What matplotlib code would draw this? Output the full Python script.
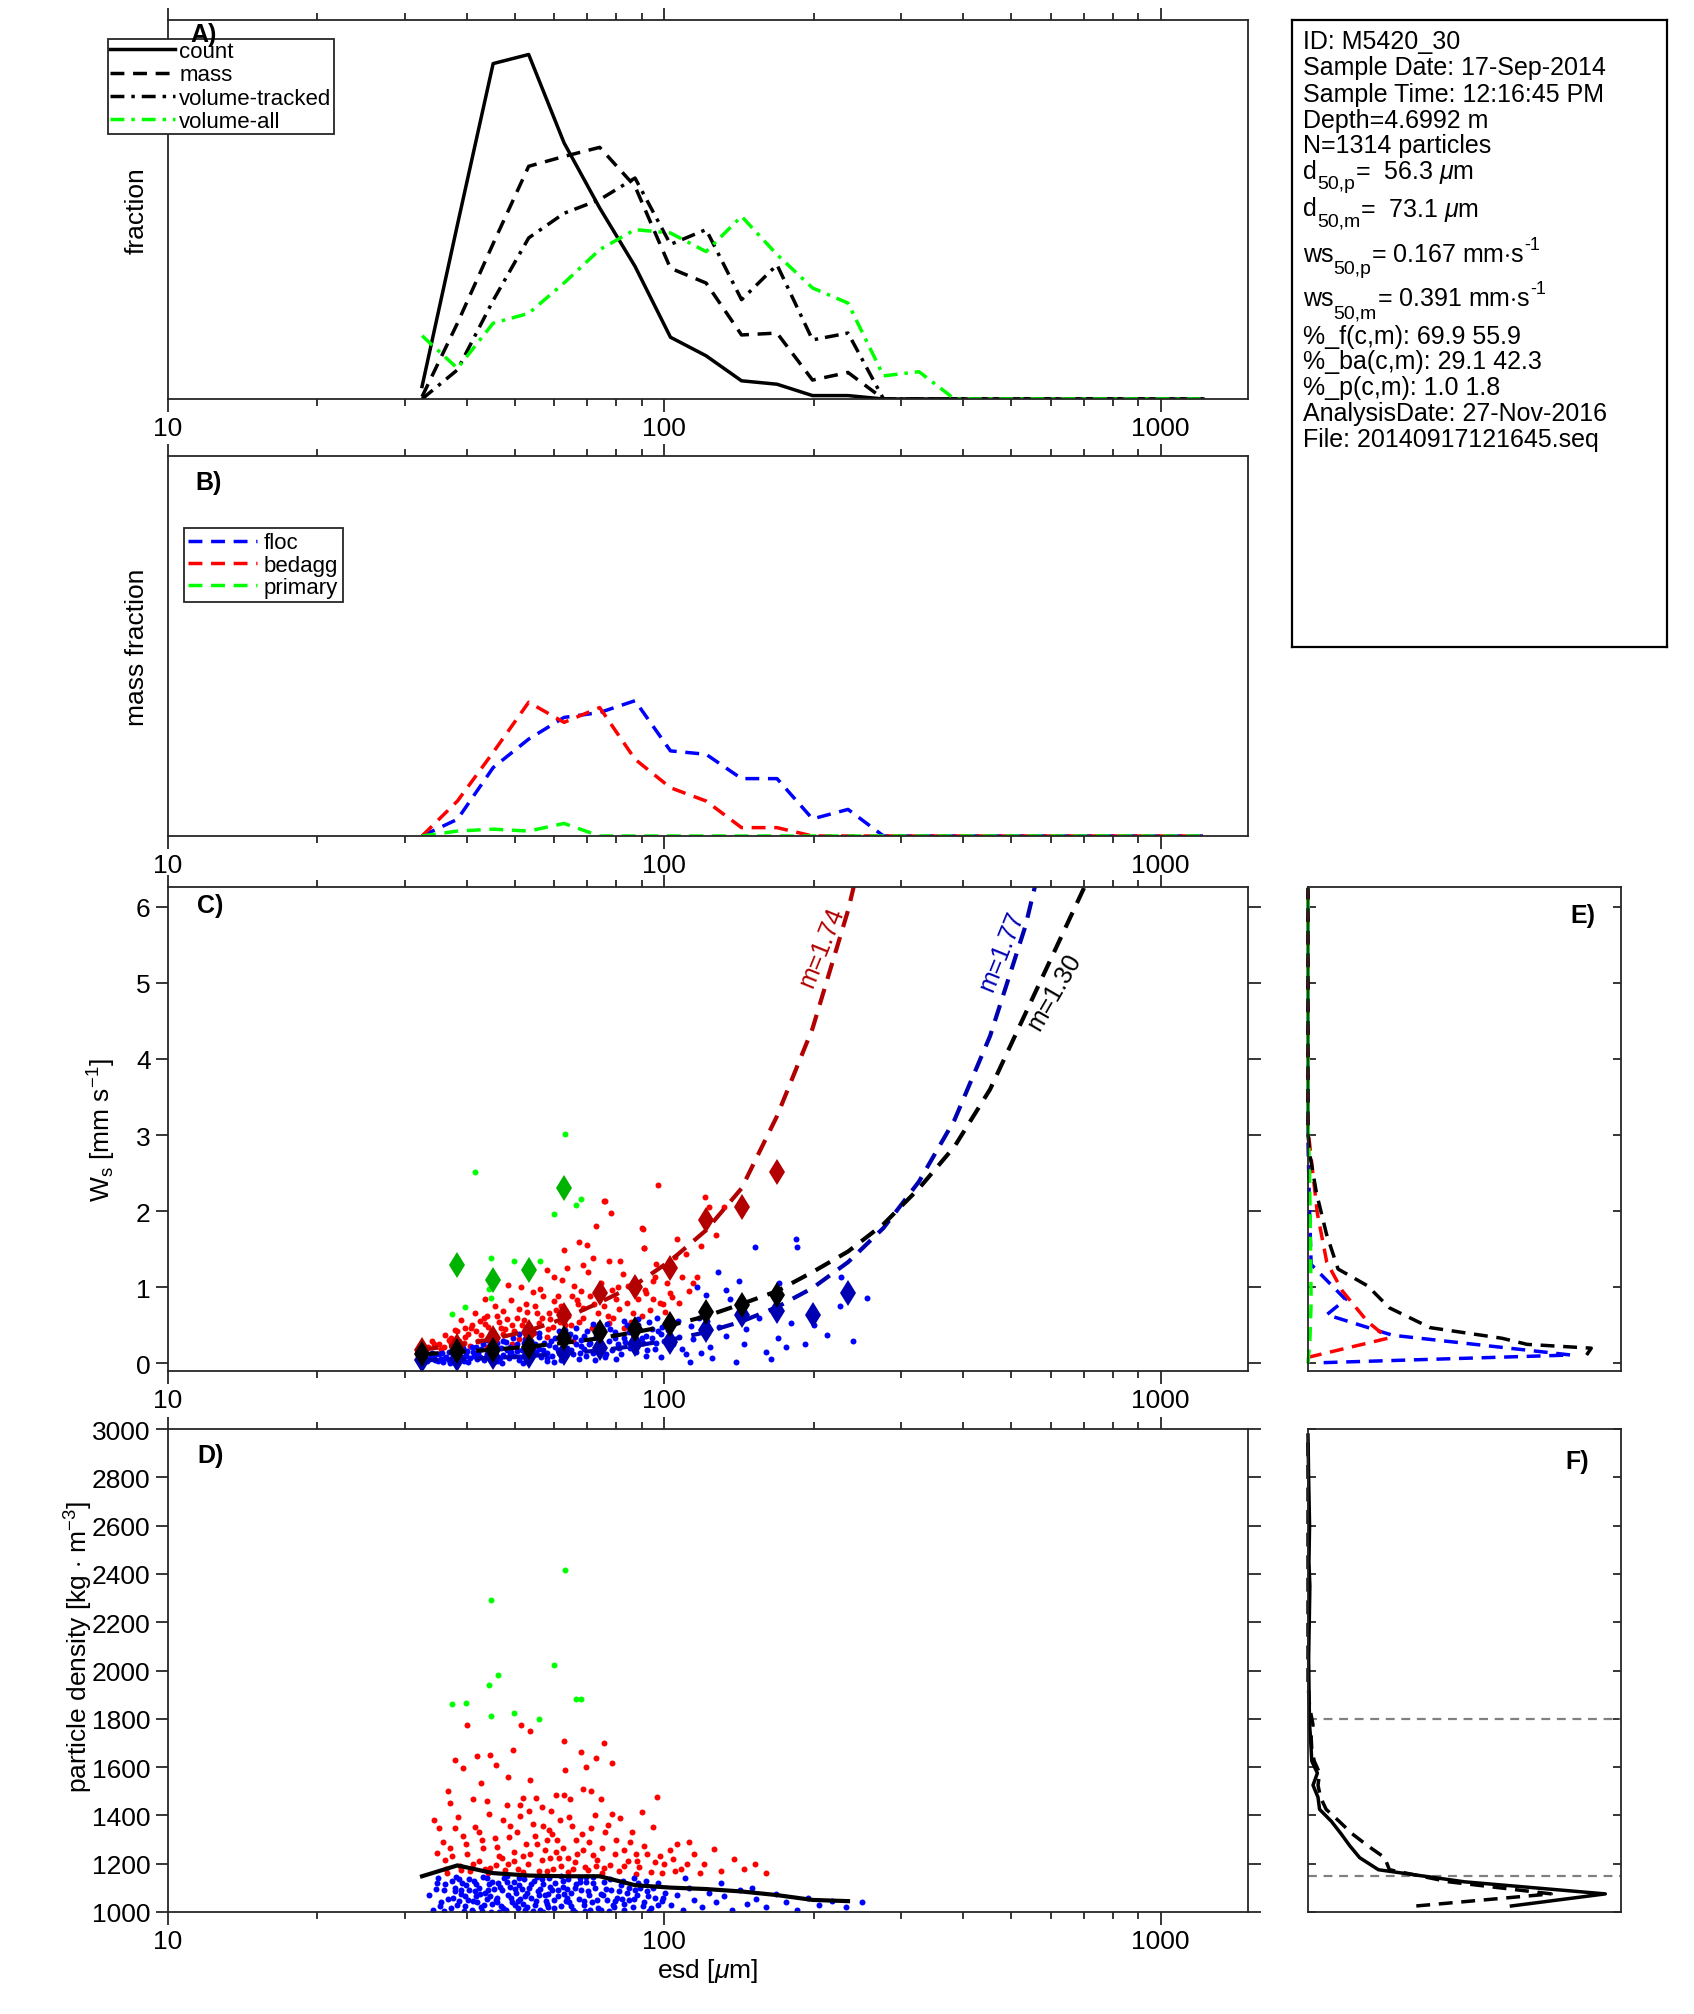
import numpy as np
import matplotlib.pyplot as plt
from matplotlib.ticker import LogLocator, NullFormatter

plt.rcParams['font.family'] = ['Liberation Sans', 'DejaVu Sans']
plt.rcParams['mathtext.fontset'] = 'custom'
plt.rcParams['mathtext.rm'] = 'Liberation Sans'
plt.rcParams['mathtext.it'] = 'Liberation Sans:italic'
plt.rcParams['mathtext.bf'] = 'Liberation Sans:bold'
plt.rcParams['font.size'] = 18

# ---- data ----
# bin centres (esd, um)
esd_bins = [32.5, 38.3, 45.2, 53.3, 62.8, 74.1, 87.3, 102.9, 121.4, 143.1, 168.7,
            198.9, 234.5, 276.5, 326.0, 384.4, 453.2, 534.3, 630.0, 742.7, 875.7,
            1032.5, 1217.3]

# A) size distributions (relative units)
frac_count = [0.033, 0.46, 0.885, 0.909, 0.676, 0.504, 0.35, 0.163, 0.114, 0.048, 0.039,
              0.009, 0.009, 0, 0, 0, 0, 0, 0, 0, 0, 0, 0]
frac_mass = [0.006, 0.2, 0.41, 0.614, 0.64, 0.664, 0.561, 0.345, 0.306, 0.169, 0.174,
             0.05, 0.07, 0, 0, 0, 0, 0, 0, 0, 0, 0, 0]
frac_voltrack = [0.0, 0.077, 0.26, 0.425, 0.49, 0.526, 0.583, 0.408, 0.447, 0.262, 0.354,
                 0.156, 0.174, 0, 0, 0, 0, 0, 0, 0, 0, 0, 0]
frac_volall = [0.167, 0.081, 0.2, 0.226, 0.306, 0.394, 0.447, 0.438, 0.389, 0.482, 0.381,
               0.293, 0.253, 0.061, 0.072, 0, 0, 0, 0, 0, 0, 0, 0]

# B) mass fraction per class
mf_floc = [0.0, 0.044, 0.18, 0.255, 0.312, 0.325, 0.356, 0.224, 0.215, 0.151, 0.151,
           0.045, 0.07, 0, 0, 0, 0, 0, 0, 0, 0, 0, 0]
mf_bedagg = [0.0, 0.092, 0.22, 0.352, 0.299, 0.338, 0.202, 0.127, 0.092, 0.022, 0.022,
             0, 0, 0, 0, 0, 0, 0, 0, 0, 0, 0, 0]
mf_primary = [0.0, 0.013, 0.018, 0.013, 0.033, 0, 0, 0, 0, 0, 0, 0, 0, 0, 0, 0, 0, 0, 0,
              0, 0, 0, 0]

# C) settling velocity: fitted curves and bin means
fit_red = [0.18, 0.24, 0.32, 0.43, 0.59, 0.80, 1.03, 1.35, 1.75, 2.3, 3.25, 4.4, 5.95, 7.9]
fit_blue = [0.04, 0.054, 0.072, 0.095, 0.13, 0.17, 0.23, 0.31, 0.41, 0.55, 0.74, 0.99,
            1.33, 1.78, 2.39, 3.2, 4.3, 5.75, 7.7]
fit_black = [0.12, 0.15, 0.18, 0.22, 0.27, 0.33, 0.41, 0.5, 0.62, 0.78, 0.95, 1.2, 1.47,
             1.83, 2.3, 2.85, 3.6, 4.6, 5.6, 6.6]
dia_red = [0.18, 0.23, 0.34, 0.41, 0.63, 0.92, 1.0, 1.26, 1.88, 2.05, 2.51]
dia_black = [0.12, 0.16, 0.18, 0.22, 0.34, 0.41, 0.45, 0.52, 0.67, 0.77, 0.9]
dia_blue = [0.05, 0.06, 0.08, 0.1, 0.13, 0.2, 0.25, 0.28, 0.44, 0.63, 0.69, 0.64, 0.92]
dia_green = [1.29, 1.09, 1.23, 2.31]

# C) particles (esd, ws)
c_green = np.array([(63.1, 3.02), (41.5, 2.51), (67.9, 2.16), (66.5, 2.08), (59.9, 1.96),
                    (44.8, 1.38), (56.2, 1.34), (49.9, 1.35), (44.8, 0.86), (39.7, 0.74),
                    (37.4, 0.65), (44.4, 0.98)])
c_red = np.array([
    (97.1, 2.35), (75.6, 2.13), (78.1, 1.98), (72.8, 1.80), (90.0, 1.78), (67.3, 1.60),
    (69.9, 1.56), (62.7, 1.49), (91.0, 1.52), (63.7, 1.25), (72.0, 1.38), (77.3, 1.35),
    (81.6, 1.35), (68.7, 1.29), (58.1, 1.23), (60.0, 1.14), (95.9, 1.14), (106.3, 1.63),
    (48.4, 1.03), (51.4, 1.01), (54.4, 0.94), (56.2, 0.98), (61.1, 0.89), (65.2, 0.89),
    (66.7, 0.83), (78.6, 0.96), (84.6, 1.02), (91.9, 0.93), (102.9, 0.92), (98.0, 0.79),
    (43.5, 0.84), (45.5, 0.75), (41.5, 0.66), (43.3, 0.60), (47.3, 0.69), (50.9, 0.71),
    (55.0, 0.76), (58.5, 0.66), (61.9, 0.75), (68.7, 0.73), (73.4, 0.66), (81.2, 0.71),
    (86.3, 0.66), (38.9, 0.57), (41.0, 0.51), (44.2, 0.48), (46.5, 0.55), (49.4, 0.51),
    (52.1, 0.57), (56.0, 0.53), (59.6, 0.48), (63.2, 0.51), (67.3, 0.55), (71.5, 0.46),
    (77.3, 0.53), (82.9, 0.46), (37.8, 0.44), (36.2, 0.37), (39.7, 0.35), (42.8, 0.37),
    (45.0, 0.32), (47.3, 0.39), (50.9, 0.32), (53.7, 0.37), (57.9, 0.35), (61.6, 0.32),
    (65.6, 0.30), (34.4, 0.26), (35.5, 0.19), (33.4, 0.22), (37.0, 0.29), (40.6, 0.23),
    (43.9, 0.21), (49.4, 0.26), (55.0, 0.23), (120.8, 2.18), (123.1, 2.05), (131.7, 2.05),
    (127.4, 1.69), (118.5, 1.54), (110.7, 1.44), (103.5, 1.26), (95.0, 1.08), (99.6, 0.78),
    (108.6, 1.13), (116.2, 1.13), (103.5, 0.87), (91.3, 0.97), (90.4, 1.77), (90.8, 1.52),
    (76.1, 2.14), (36.8, 0.31), (38.2, 0.42), (39.5, 0.27), (40.8, 0.46), (42.1, 0.29),
    (43.6, 0.52), (44.8, 0.41), (46.1, 0.62), (47.7, 0.45), (49.1, 0.83), (50.5, 0.6),
    (52.6, 0.78), (53.9, 0.45), (55.4, 0.66), (57.0, 0.88), (58.8, 0.58), (60.6, 0.7),
    (62.3, 1.1), (64.1, 0.62), (65.9, 1.02), (67.9, 0.95), (70.1, 1.2), (72.3, 0.78),
    (74.6, 1.05), (76.9, 0.62), (79.8, 0.85), (82.4, 1.18), (85.6, 0.55), (88.7, 0.84),
    (93.5, 0.7), (96.4, 1.3), (101.2, 1.05), (105.0, 1.4), (112.0, 0.95),
    (34.0, 0.3), (35.2, 0.25), (36.0, 0.21), (37.2, 0.34), (38.5, 0.3), (39.6, 0.47),
    (40.3, 0.38), (41.8, 0.42), (42.6, 0.56), (44.0, 0.62), (45.2, 0.38), (46.8, 0.47),
    (48.1, 0.58), (49.9, 0.42), (51.6, 0.5), (52.9, 0.68), (54.7, 0.4), (56.6, 0.6),
    (58.3, 0.45), (59.9, 0.82), (61.5, 0.55), (63.1, 0.7), (65.0, 0.5), (66.9, 0.78),
    (68.6, 0.6), (70.9, 0.88), (73.9, 0.52), (75.5, 0.75), (78.9, 0.6), (80.7, 1.0),
    (84.0, 0.8), (87.2, 0.95), (90.0, 0.62), (94.9, 0.85), (100.4, 0.68), (106.9, 0.8),
    (114.5, 1.05)])
c_blue = np.array([
    (33.2, 0.03), (33.8, 0.08), (34.5, 0.05), (35.1, 0.12), (35.8, 0.02), (36.4, 0.09),
    (36.9, 0.15), (34.0, 0.14), (35.5, 0.06), (37.0, 0.01), (37.6, 0.11), (38.1, 0.04),
    (38.7, 0.18), (39.2, 0.08), (39.8, 0.13), (40.3, 0.02), (40.9, 0.21), (41.4, 0.1),
    (41.9, 0.06), (38.4, 0.25), (40.0, 0.16), (42.2, 0.14), (39.5, 0.03), (42.8, 0.19),
    (43.3, 0.05), (43.9, 0.12), (44.5, 0.24), (45.0, 0.09), (45.6, 0.16), (46.2, 0.03),
    (46.8, 0.2), (47.4, 0.11), (48.0, 0.28), (48.6, 0.07), (49.2, 0.15), (44.0, 0.31),
    (46.0, 0.27), (47.0, 0.01), (48.9, 0.22), (45.3, 0.02), (49.8, 0.1), (50.4, 0.25),
    (51.0, 0.04), (51.7, 0.18), (52.4, 0.32), (53.0, 0.12), (53.7, 0.06), (54.4, 0.22),
    (55.1, 0.15), (55.8, 0.35), (56.5, 0.08), (57.2, 0.27), (57.9, 0.03), (50.9, 0.38),
    (52.0, 0.01), (54.0, 0.29), (56.0, 0.19), (58.0, 0.13), (58.7, 0.24), (59.5, 0.1),
    (60.3, 0.33), (61.1, 0.17), (61.9, 0.05), (62.8, 0.28), (63.6, 0.2), (64.5, 0.38),
    (65.4, 0.12), (66.3, 0.26), (67.2, 0.06), (68.1, 0.31), (69.0, 0.19), (70.0, 0.42),
    (60.0, 0.02), (63.0, 0.44), (66.0, 0.35), (69.5, 0.1), (62.0, 0.14), (67.8, 0.23),
    (71.0, 0.27), (72.0, 0.13), (73.0, 0.36), (74.0, 0.21), (75.0, 0.47), (76.1, 0.09),
    (77.2, 0.3), (78.3, 0.18), (79.4, 0.41), (80.5, 0.25), (81.7, 0.12), (82.9, 0.34),
    (84.1, 0.5), (85.3, 0.2), (72.5, 0.04), (76.5, 0.52), (80.0, 0.06), (83.5, 0.28),
    (86.5, 0.38), (87.8, 0.15), (89.1, 0.45), (90.4, 0.27), (91.7, 0.1), (93.0, 0.55),
    (94.4, 0.33), (95.8, 0.19), (97.2, 0.42), (98.6, 0.08), (100.0, 0.3), (88.5, 0.58),
    (92.0, 0.36), (96.5, 0.6), (99.0, 0.48), (183.9, 1.63), (185.1, 1.53), (152.2, 1.53),
    (128.0, 1.20), (141.7, 1.08), (116.2, 1.00), (121.5, 0.90), (132.9, 0.97), (135.6, 0.85),
    (227.2, 1.14), (255.9, 0.86), (225.9, 0.76), (170.1, 1.06), (180.4, 0.53), (169.1, 0.34),
    (175.9, 0.22), (192.3, 0.25), (213.1, 0.37), (164.4, 0.06), (139.5, 0.02), (132.9, 0.36),
    (144.8, 0.25), (129.1, 0.48), (113.3, 0.49), (118.5, 0.14), (112.9, 0.02), (108.6, 0.19),
    (123.8, 0.22), (106.6, 0.56), (122.0, 0.56),
    (33.6, 0.06), (34.3, 0.1), (35.0, 0.03), (35.7, 0.14), (36.2, 0.07), (36.8, 0.04),
    (37.4, 0.17), (38.0, 0.09), (38.6, 0.06), (39.3, 0.2), (39.9, 0.1), (40.6, 0.07),
    (41.2, 0.15), (41.8, 0.22), (42.5, 0.09), (43.1, 0.26), (43.8, 0.08), (44.5, 0.17),
    (45.2, 0.12), (45.9, 0.22), (46.6, 0.07), (47.3, 0.3), (48.1, 0.17), (48.9, 0.12),
    (49.6, 0.33), (50.5, 0.16), (51.3, 0.09), (52.2, 0.27), (53.1, 0.2), (54.0, 0.1),
    (55.0, 0.25), (56.0, 0.4), (57.0, 0.18), (58.0, 0.07), (59.1, 0.3), (60.2, 0.22),
    (61.4, 0.43), (62.5, 0.1), (63.8, 0.32), (65.0, 0.17), (66.3, 0.47), (67.7, 0.14),
    (69.0, 0.36), (70.4, 0.25), (71.8, 0.52), (73.3, 0.18), (74.8, 0.38), (76.3, 0.12),
    (77.9, 0.45), (79.5, 0.33), (81.2, 0.2), (82.9, 0.56), (84.7, 0.41), (86.5, 0.24),
    (88.4, 0.5), (90.3, 0.34), (92.3, 0.18), (94.3, 0.45), (96.4, 0.27), (98.6, 0.38),
    (101.5, 0.44), (104.0, 0.26), (107.2, 0.35), (110.5, 0.12), (114.0, 0.32), (117.5, 0.6),
    (121.0, 0.4), (125.0, 0.07), (146.0, 0.45), (155.0, 0.6), (160.0, 0.15), (200.0, 0.5),
    (240.0, 0.3)])

# D) particles (esd, density)
d_green = np.array([(63.1, 2418), (44.8, 2291), (59.9, 2021), (46.3, 1982), (44.4, 1940),
                    (37.4, 1863), (39.8, 1867), (66.3, 1883), (67.9, 1880), (44.8, 1810),
                    (49.9, 1826), (56.0, 1801)])
d_red = np.array([
    (40.1, 1776), (51.5, 1776), (53.7, 1751), (49.6, 1670), (62.7, 1709), (75.6, 1701),
    (37.9, 1629), (41.9, 1645), (44.6, 1650), (45.8, 1609), (39.3, 1597), (48.4, 1558),
    (53.7, 1545), (63.2, 1587), (67.9, 1662), (72.8, 1639), (78.3, 1617), (69.6, 1600),
    (42.8, 1536), (36.6, 1500), (37.0, 1450), (34.4, 1379), (35.1, 1349), (41.1, 1466),
    (43.9, 1458), (48.3, 1441), (51.2, 1443), (55.2, 1474), (59.1, 1419), (62.7, 1483),
    (64.6, 1466), (68.7, 1511), (71.1, 1503), (74.4, 1466), (78.6, 1407), (96.6, 1478),
    (90.0, 1416), (37.8, 1349), (39.3, 1315), (42.4, 1332), (45.5, 1307), (48.9, 1357),
    (52.6, 1282), (54.9, 1315), (58.5, 1340), (61.6, 1382), (65.2, 1357), (66.5, 1299),
    (71.3, 1349), (76.0, 1332), (81.6, 1391), (85.1, 1290), (91.2, 1273), (95.9, 1206),
    (102.9, 1256), (106.3, 1282), (37.0, 1265), (40.1, 1240), (43.2, 1265), (46.5, 1231),
    (49.9, 1248), (53.7, 1240), (56.6, 1215), (60.4, 1248), (64.0, 1223), (68.7, 1256),
    (73.1, 1215), (79.4, 1240), (83.0, 1189), (87.5, 1240), (36.2, 1215), (34.9, 1245),
    (41.1, 1198), (44.6, 1181), (48.4, 1198), (62.0, 1189), (70.2, 1173), (75.6, 1181),
    (87.5, 1156), (98.9, 1161), (111.0, 1198), (57.9, 1299), (54.3, 1365), (51.1, 1399),
    (47.4, 1382), (59.5, 1324), (52.0, 1474), (56.6, 1436), (60.4, 1483), (104, 1220),
    (108, 1180), (112, 1290), (115, 1240), (120, 1200), (126, 1260), (130, 1170),
    (138, 1220), (145, 1180), (152, 1200), (160, 1160), (118, 1160), (36.5, 1160),
    (38.8, 1190), (40.6, 1170), (42.3, 1210), (44.1, 1160), (45.9, 1195), (47.8, 1175),
    (49.7, 1210), (51.9, 1165), (53.2, 1200), (55.8, 1170), (57.4, 1255), (59.8, 1180),
    (61.3, 1225), (63.9, 1165), (66.2, 1205), (69.1, 1185), (71.8, 1235), (74.9, 1160),
    (77.6, 1195), (81.0, 1170), (84.5, 1210), (89.0, 1185), (93.8, 1165), (98.0, 1230),
    (35.8, 1290), (37.4, 1230), (38.4, 1395), (39.9, 1280), (41.6, 1350), (43.0, 1300),
    (44.3, 1405), (46.0, 1270), (47.1, 1225), (48.7, 1310), (50.4, 1330), (52.0, 1230),
    (53.4, 1420), (55.5, 1280), (57.0, 1355), (58.9, 1225), (60.9, 1300), (62.5, 1265),
    (64.4, 1395), (66.8, 1240), (68.2, 1325), (70.6, 1290), (72.5, 1400), (75.0, 1265),
    (77.0, 1360), (80.0, 1300), (82.8, 1255), (86.0, 1330), (88.3, 1210), (92.5, 1240),
    (95.0, 1350), (100.0, 1200), (105.0, 1170), (36.3, 1180), (39.0, 1175), (43.5, 1180),
    (50.8, 1180), (58.0, 1170), (65.5, 1180), (72.9, 1190)])
d_blue = np.array([
    (33.5, 1070), (34.2, 1010), (34.8, 1120), (35.5, 1040), (36.0, 1090), (35.0, 1140),
    (37.2, 1015), (37.5, 1060), (37.8, 1100), (38.3, 1030), (38.6, 1135), (39.0, 1075),
    (39.4, 1005), (39.8, 1110), (40.2, 1050), (38.0, 1146), (39.6, 1025), (40.5, 1090),
    (41.0, 1010), (41.3, 1130), (41.7, 1065), (42.0, 1040), (42.4, 1100), (42.8, 1020),
    (43.1, 1145), (43.5, 1080), (43.9, 1055), (44.3, 1115), (44.7, 1000), (45.0, 1035),
    (45.4, 1095), (41.5, 1085), (43.0, 1005), (44.0, 1140), (46.0, 1060), (46.3, 1120),
    (46.8, 1025), (47.2, 1090), (47.6, 1140), (48.0, 1010), (48.5, 1070), (48.9, 1105),
    (49.4, 1040), (49.8, 1125), (50.3, 1080), (50.8, 1015), (51.2, 1055), (51.7, 1095),
    (52.2, 1135), (46.5, 1000), (48.2, 1147), (50.0, 1030), (51.0, 1110), (52.5, 1065),
    (53.0, 1020), (53.5, 1100), (54.0, 1060), (54.6, 1130), (55.1, 1045), (55.7, 1085),
    (56.3, 1010), (56.9, 1115), (57.5, 1070), (58.1, 1035), (58.7, 1140), (59.3, 1090),
    (59.9, 1050), (54.3, 1005), (57.0, 1000), (60.2, 1120), (55.5, 1146), (58.4, 1075),
    (61.0, 1065), (61.8, 1025), (62.5, 1105), (63.3, 1045), (64.0, 1135), (64.8, 1080),
    (65.6, 1010), (66.4, 1115), (67.2, 1055), (68.0, 1090), (68.9, 1030), (69.7, 1145),
    (70.5, 1070), (62.0, 1147), (66.0, 1000), (63.8, 1095), (67.5, 1125), (69.2, 1005),
    (71.5, 1040), (72.5, 1100), (73.5, 1015), (74.6, 1075), (75.7, 1125), (76.8, 1050),
    (78.0, 1090), (79.2, 1020), (80.4, 1060), (81.7, 1110), (83.0, 1035), (84.3, 1080),
    (72.0, 1145), (77.5, 1005), (82.5, 1130), (85.0, 1050), (86.5, 1020), (88.0, 1070),
    (89.5, 1100), (91.0, 1040), (92.5, 1085), (94.0, 1015), (95.6, 1060), (97.2, 1120),
    (98.8, 1045), (100.5, 1080), (87.0, 1140), (93.0, 1005), (103, 1030), (106, 1070),
    (109, 1010), (112, 1100), (115, 1050), (119, 1020), (123, 1080), (127, 1040),
    (132, 1065), (137, 1010), (142, 1090), (147, 1035), (153, 1055), (160, 1020),
    (168, 1075), (176, 1040), (185, 1010), (195, 1060), (205, 1030), (218, 1045),
    (232, 1020), (250, 1040), (110, 1140), (130, 1120), (150, 1100),
    (34.6, 1095), (35.3, 1025), (36.2, 1115), (36.7, 1055), (37.3, 1130), (37.9, 1085),
    (38.5, 1045), (39.1, 1120), (39.7, 1065), (40.4, 1135), (41.1, 1045), (41.8, 1115),
    (42.6, 1075), (43.4, 1030), (44.1, 1090), (44.9, 1125), (45.7, 1050), (46.6, 1105),
    (47.4, 1015), (48.3, 1125), (49.1, 1060), (50.1, 1095), (51.0, 1140), (51.9, 1035),
    (52.8, 1080), (53.8, 1115), (54.8, 1030), (55.9, 1070), (56.8, 1135), (57.8, 1045),
    (58.9, 1105), (60.0, 1015), (61.2, 1090), (62.4, 1130), (63.6, 1060), (64.9, 1025),
    (66.1, 1100), (67.5, 1140), (68.8, 1045), (70.2, 1085), (71.7, 1120), (73.1, 1050),
    (74.6, 1010), (76.2, 1095), (77.8, 1135), (79.5, 1045), (81.2, 1085), (83.0, 1010),
    (84.8, 1100), (86.7, 1055), (88.6, 1120), (90.6, 1025), (92.6, 1065), (94.7, 1100),
    (96.9, 1030), (99.2, 1060), (36.0, 1005), (41.2, 1000), (46.1, 1040), (52.3, 1010),
    (58.2, 1020), (64.2, 1040), (70.8, 1010), (78.7, 1030), (87.4, 1090), (38.9, 1090),
    (44.6, 1065), (50.7, 1045), (56.1, 1095), (62.9, 1075), (69.4, 1125), (75.1, 1070),
    (82.2, 1055), (91.9, 1130)])
dens_mean = [1148, 1193, 1161, 1151, 1148, 1148, 1111, 1101, 1095, 1085, 1070, 1050, 1045]

# E) ws distributions (fraction, ws)
e_black_ws = [0.11, 0.2, 0.25, 0.33, 0.47, 0.73, 1.02, 1.24, 1.70, 2.24, 2.72, 3.0, 6.25]
e_black_f = [0.89, 0.905, 0.70, 0.62, 0.39, 0.26, 0.19, 0.096, 0.059, 0.027, 0.007, 0.0, 0.0]
e_blue_ws = [0.01, 0.11, 0.37, 0.64, 0.84, 1.3, 2.0, 2.9, 6.25]
e_blue_f = [0.05, 0.84, 0.27, 0.06, 0.12, 0.01, 0.005, 0.0, 0.0]
e_red_ws = [0.08, 0.33, 0.55, 0.95, 1.33, 1.97, 2.55, 3.08, 6.25]
e_red_f = [0.0, 0.255, 0.19, 0.11, 0.06, 0.03, 0.014, 0.0, 0.0]
e_green_ws = [0.0, 0.3, 0.8, 1.5, 2.5, 3.2, 6.25]
e_green_f = [0.0, 0.006, 0.01, 0.008, 0.005, 0.0, 0.0]

# F) density distributions
f_rho = [1025, 1075, 1125, 1175, 1225, 1275, 1325, 1375, 1425, 1475, 1525, 1575, 1625,
         1675, 1725, 1775, 1850, 1950, 2050, 2200, 2350, 2450, 2600, 2800, 2975]
f_solid = [0.65, 0.95, 0.50, 0.225, 0.165, 0.133, 0.105, 0.075, 0.037, 0.032, 0.016, 0.03,
           0.012, 0.01, 0.008, 0.005, 0.004, 0.003, 0.002, 0.004, 0.006, 0.003, 0.005,
           0.002, 0.0]
f_dashed = [0.346, 0.777, 0.45, 0.26, 0.245, 0.19, 0.14, 0.10, 0.058, 0.04, 0.032, 0.037,
            0.02, 0.012, 0.01, 0.016, 0.005, 0, 0, 0, 0, 0, 0, 0, 0]
dens_limits = [1150, 1800]

# info box: each line is a list of (text, size, baseline shift in px)
info_lines = [
    [('ID: M5420_30', 18, 0)],
    [('Sample Date: 17-Sep-2014', 18, 0)],
    [('Sample Time: 12:16:45 PM', 18, 0)],
    [('Depth=4.6992 m', 18, 0)],
    [('N=1314 particles', 18, 0)],
    [('d', 18, 0), ('50,p', 14, 10), (r'=  56.3 $\mu$m', 18, 0)],
    [('d', 18, 0), ('50,m', 14, 10), (r'=  73.1 $\mu$m', 18, 0)],
    [('ws', 18, 0), ('50,p', 14, 12), (r'= 0.167 mm$\cdot$s', 18, 0), ('-1', 13, -12)],
    [('ws', 18, 0), ('50,m', 14, 12), (r'= 0.391 mm$\cdot$s', 18, 0), ('-1', 13, -12)],
    [('%_f(c,m): 69.9 55.9', 18, 0)],
    [('%_ba(c,m): 29.1 42.3', 18, 0)],
    [('%_p(c,m): 1.0 1.8', 18, 0)],
    [('AnalysisDate: 27-Nov-2016', 18, 0)],
    [('File: 20140917121645.seq', 18, 0)]]
info_base = [49.5, 75, 102, 128, 153.5, 179, 216.5, 261.5, 306.5, 344, 369.5, 395, 421, 446.5]

# ---- layout ----
W, H = 1694, 2015
fig = plt.figure(figsize=(W / 100, H / 100), dpi=100)
renderer = fig.canvas.get_renderer()
GR = '#262626'
TICK_FS = 19
LAB_FS = 19


def box(l, t, r, b):
    return [l / W, 1 - b / H, (r - l) / W, (b - t) / H]


def frame(ax):
    for s in ax.spines.values():
        s.set_color(GR)
        s.set_linewidth(1.3)


def log_x(ax):
    ax.set_xscale('log')
    ax.set_xlim(10, 1500)
    ax.set_xticks([10, 100, 1000])
    ax.set_xticklabels(['10', '100', '1000'])
    ax.xaxis.set_minor_locator(LogLocator(base=10, subs=np.arange(2, 10)))
    ax.xaxis.set_minor_formatter(NullFormatter())
    ax.tick_params(axis='x', which='both', direction='out', top=True, bottom=True,
                   colors=GR, labelsize=TICK_FS, width=1.3)
    ax.tick_params(axis='x', which='major', length=9)
    ax.tick_params(axis='x', which='minor', length=5)
    for lab in ax.get_xticklabels():
        lab.set_color('black')
    frame(ax)


DASH = (4, 2.5)
DASHDOT = (4, 2, 1, 2)

# A)
axA = fig.add_axes(box(168, 21, 1248, 400))
axA.plot(esd_bins, frac_count, '-', color='k', lw=2.5, label='count')
axA.plot(esd_bins, frac_mass, '--', color='k', lw=2.5, dashes=DASH, label='mass')
axA.plot(esd_bins, frac_voltrack, '-.', color='k', lw=2.5, dashes=DASHDOT,
         label='volume-tracked')
axA.plot(esd_bins, frac_volall, '-.', color=(0, 1, 0), lw=2.5, dashes=DASHDOT,
         label='volume-all')
log_x(axA)
axA.set_ylim(0, 1)
axA.set_yticks([])
axA.set_ylabel('fraction', fontsize=LAB_FS)
axA.yaxis.set_label_coords(-0.018, 0.5)
legA = axA.legend(loc='upper left', bbox_to_anchor=(108 / W, 1 - 40 / H),
                  bbox_transform=fig.transFigure, fontsize=16, frameon=True, fancybox=False,
                  framealpha=1, edgecolor=GR, borderpad=0.1, labelspacing=0.1,
                  handlelength=2.9, handletextpad=0.2, borderaxespad=0)
legA.get_frame().set_linewidth(1.3)

# B)
axB = fig.add_axes(box(168, 457, 1248, 837))
axB.plot(esd_bins, mf_floc, '--', color='b', lw=2.5, dashes=DASH, label='floc')
axB.plot(esd_bins, mf_bedagg, '--', color='r', lw=2.5, dashes=DASH, label='bedagg')
axB.plot(esd_bins, mf_primary, '--', color=(0, 1, 0), lw=2.5, dashes=DASH, label='primary')
log_x(axB)
axB.set_ylim(0, 1)
axB.set_yticks([])
axB.set_ylabel('mass fraction', fontsize=LAB_FS)
axB.yaxis.set_label_coords(-0.018, 0.5)
legB = axB.legend(loc='upper left', bbox_to_anchor=(184 / W, 1 - 529 / H),
                  bbox_transform=fig.transFigure, fontsize=16, frameon=True, fancybox=False,
                  framealpha=1, edgecolor=GR, borderpad=0.2, labelspacing=0.05,
                  handlelength=3.1, handletextpad=0.3, borderaxespad=0)
legB.get_frame().set_linewidth(1.3)

# C)
axC = fig.add_axes(box(168, 888, 1248, 1372))
DOT = dict(ls='none', marker='o', ms=4.3, mew=0)
axC.plot(c_red[:, 0], c_red[:, 1], color='r', **DOT)
axC.plot(c_blue[:, 0], c_blue[:, 1], color='b', **DOT)
axC.plot(c_green[:, 0], c_green[:, 1], color=(0, 1, 0), **DOT)
DR, DB, DG = (0.7, 0, 0), (0, 0, 0.7), (0, 0.7, 0)
axC.plot(esd_bins[:len(fit_red)], fit_red, '--', color=DR, lw=3, dashes=DASH)
axC.plot(esd_bins[:len(fit_blue)], fit_blue, '--', color=DB, lw=3, dashes=DASH)
axC.plot(esd_bins[:len(fit_black)], fit_black, '--', color='k', lw=3, dashes=DASH)
axC.plot(esd_bins[:len(dia_red)], dia_red, 'd', color=DR, ms=13, mew=0)
axC.plot(esd_bins[:len(dia_blue)], dia_blue, 'd', color=DB, ms=13, mew=0)
axC.plot(esd_bins[:len(dia_black)], dia_black, 'd', color='k', ms=13, mew=0)
axC.plot(esd_bins[1:5], dia_green, 'd', color=DG, ms=13, mew=0)
axC.text(207, 5.48, 'm=1.74', color=DR, rotation=68, ha='center', va='center',
         rotation_mode='anchor', fontsize=18)
axC.text(477, 5.42, 'm=1.77', color=DB, rotation=68, ha='center', va='center',
         rotation_mode='anchor', fontsize=18)
axC.text(612, 4.89, 'm=1.30', color='k', rotation=60, ha='center', va='center',
         rotation_mode='anchor', fontsize=18)
log_x(axC)
axC.set_ylim(-0.1, 6.26)
axC.set_yticks(range(0, 7))
axC.tick_params(axis='y', which='both', direction='out', left=True, right=True,
                colors=GR, labelsize=TICK_FS, length=9, width=1.3)
for lab in axC.get_yticklabels():
    lab.set_color('black')
axC.set_ylabel(r'W$_{\mathrm{s}}$ [mm s$^{\mathrm{-1}}$]', fontsize=LAB_FS)
axC.yaxis.set_label_coords(-0.046, 0.5)

# D)
axD = fig.add_axes(box(168, 1430, 1248, 1913))
axD.plot(d_red[:, 0], d_red[:, 1], color='r', **DOT)
axD.plot(d_blue[:, 0], d_blue[:, 1], color='b', **DOT)
axD.plot(d_green[:, 0], d_green[:, 1], color=(0, 1, 0), **DOT)
axD.plot(esd_bins[:len(dens_mean)], dens_mean, '-', color='k', lw=3)
log_x(axD)
axD.set_ylim(1000, 3000)
axD.set_yticks(range(1000, 3001, 200))
axD.tick_params(axis='y', which='both', direction='out', left=True, right=True,
                colors=GR, labelsize=TICK_FS, length=9, width=1.3)
for lab in axD.get_yticklabels():
    lab.set_color('black')
axD.set_ylabel(r'particle density [kg $\cdot$ m$^{\mathrm{-3}}$]', fontsize=LAB_FS)
axD.yaxis.set_label_coords(-0.068, 0.55)
axD.set_xlabel(r'esd [$\mu$m]', fontsize=LAB_FS, labelpad=2)

# info box
axT = fig.add_axes(box(1292, 21, 1667, 648))
axT.set_xticks([])
axT.set_yticks([])
for s in axT.spines.values():
    s.set_color('k')
    s.set_linewidth(1.6)
for pieces, yb in zip(info_lines, info_base):
    xp = 1303
    for txt, fs, dy in pieces:
        t = fig.text(xp / W, 1 - (yb + dy) / H, txt, fontsize=fs, va='baseline', ha='left')
        xp += t.get_window_extent(renderer).width

# E)
axE = fig.add_axes(box(1308, 888, 1621, 1372))
axE.plot(e_blue_f, e_blue_ws, '--', color='b', lw=2.5, dashes=DASH, clip_on=False)
axE.plot(e_red_f, e_red_ws, '--', color='r', lw=2.5, dashes=DASH, clip_on=False)
axE.plot(e_green_f, e_green_ws, '--', color=(0, 1, 0), lw=2.5, dashes=DASH, clip_on=False)
axE.plot(e_black_f, e_black_ws, '--', color='k', lw=2.5, dashes=DASH, clip_on=False)
axE.set_xlim(0, 1)
axE.set_ylim(-0.1, 6.26)
axE.set_xticks([])
axE.set_yticks(range(0, 7))
axE.tick_params(axis='y', direction='in', left=True, right=True, labelleft=False,
                colors=GR, length=6, width=1.3)
frame(axE)

# F)
axF = fig.add_axes(box(1308, 1430, 1621, 1913))
for dl in dens_limits:
    axF.axhline(dl, color=(0.5, 0.5, 0.5), lw=1.6, ls='--', dashes=(4, 3))
axF.plot(f_solid, f_rho, '-', color='k', lw=2.5, clip_on=False)
axF.plot(f_dashed, f_rho, '--', color='k', lw=2.5, dashes=DASH, clip_on=False)
axF.set_xlim(0, 1)
axF.set_ylim(1000, 3000)
axF.set_xticks([])
axF.set_yticks(range(1000, 3001, 200))
axF.tick_params(axis='y', direction='in', left=True, right=True, labelleft=False,
                colors=GR, length=6, width=1.3)
frame(axF)

# panel letters
for lab, (px, py) in zip(['A)', 'B)', 'C)', 'D)', 'E)', 'F)'],
                         [(190, 35), (195, 483), (197, 906), (197, 1456),
                          (1570, 916), (1565, 1462)]):
    fig.text(px / W, 1 - py / H, lab, fontsize=18, fontweight='bold', va='center',
             ha='left')

fig.savefig('out.png', dpi=100, facecolor='white')
